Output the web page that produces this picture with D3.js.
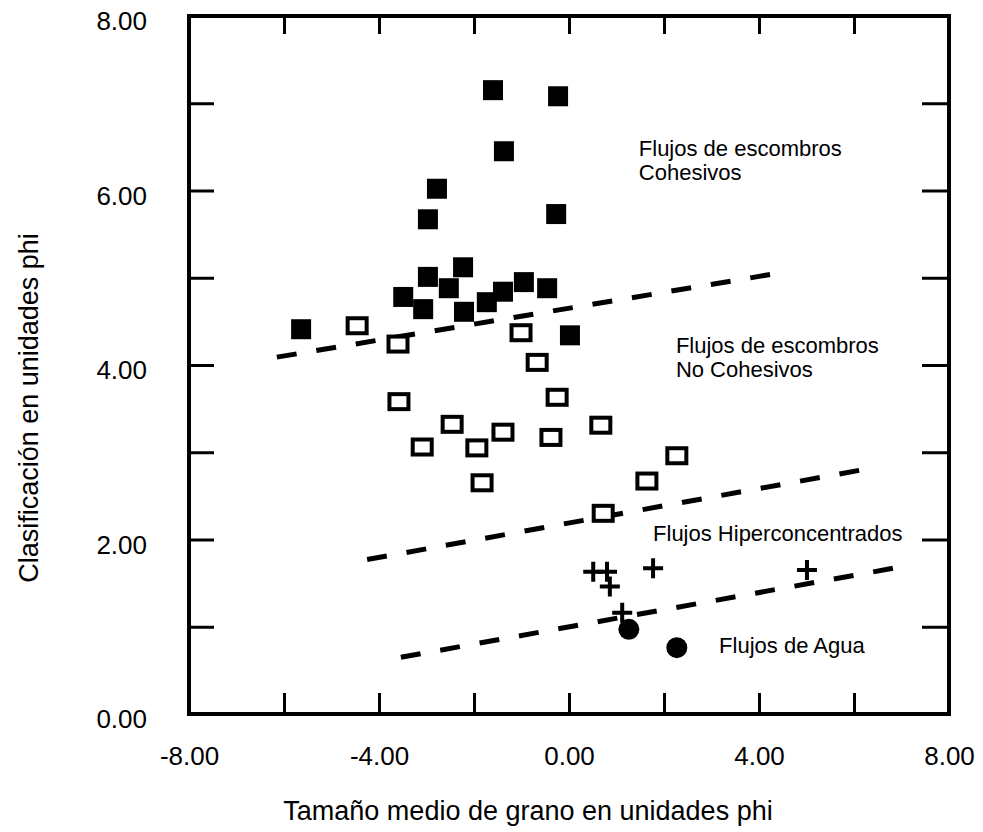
<!DOCTYPE html>
<html>
<head>
<meta charset="utf-8">
<script src="https://cdn.jsdelivr.net/npm/d3@7"></script>
<style>
  body { margin: 0; background: #fff; }
  svg text { font-family: "Liberation Sans", Arial, Helvetica, sans-serif; fill: #000; }
</style>
</head>
<body>
<div id="graph"></div>
<script>
// data (x = tamaño medio, y = clasificación, phi units)
var cohesivos = [
  [-5.64, 4.41], [-1.60, 7.15], [-0.23, 7.08], [-1.37, 6.45], [-2.78, 6.02],
  [-2.97, 5.67], [-0.27, 5.73], [-3.49, 4.78], [-3.07, 4.64], [-2.97, 5.01],
  [-2.23, 5.12], [-2.53, 4.88], [-2.21, 4.61], [-1.73, 4.72], [-1.39, 4.84],
  [-0.95, 4.95], [-0.46, 4.88], [0.02, 4.34]
];
var noCohesivos = [
  [-4.46, 4.45], [-3.60, 4.24], [-1.01, 4.37], [-0.67, 4.03], [-0.25, 3.63],
  [-3.58, 3.58], [-2.46, 3.32], [-3.09, 3.06], [-1.39, 3.23], [-1.94, 3.05],
  [-0.38, 3.17], [-1.83, 2.65], [0.67, 3.31], [2.27, 2.96], [1.64, 2.67],
  [0.72, 2.30]
];
var hiperconcentrados = [
  [0.51, 1.63], [0.80, 1.63], [0.86, 1.46], [1.77, 1.67], [5.01, 1.65], [1.12, 1.16]
];
var agua = [[1.26, 0.97], [2.27, 0.76]];

// dashed boundaries between flow types
var limites = [
  [[-6.15, 4.09], [4.38, 5.05]],
  [[-4.25, 1.77], [6.19, 2.80]],
  [[-3.54, 0.65], [6.82, 1.67]]
];

var xLabelTicks = [-8, -4, 0, 4, 8];
var xMinorTicks = [-6, -4, -2, 0, 2, 4, 6];
var yLabelTicks = [0, 2, 4, 6, 8];
var yMinorTicks = [1, 2, 3, 4, 5, 6, 7];

var zonas = [
  {lines: ["Flujos de escombros", "Cohesivos"], at: [1.47, 6.40]},
  {lines: ["Flujos de escombros", "No Cohesivos"], at: [2.25, 4.14]},
  {lines: ["Flujos Hiperconcentrados"], at: [1.77, 1.98]},
  {lines: ["Flujos de Agua"], at: [3.16, 0.70]}
];

var width = 983, height = 832;

var svg = d3.select("#graph").append("svg")
    .attr("width", width)
    .attr("height", height);

var x = d3.scaleLinear().domain([-8, 8]).range([189, 949]);
var y = d3.scaleLinear().domain([0, 8]).range([714, 16]);

// plain hyphen instead of d3's unicode minus
var fmt = function(d) { return d3.format(".2f")(d).replace("\u2212", "-"); };

// tick marks (inward) on all four sides
function tickOnly(axis, g) {
  g.call(axis);
  g.select(".domain").remove();
  g.selectAll(".tick line").attr("stroke", "#000").attr("stroke-width", 3);
  g.selectAll(".tick text").remove();
}

svg.append("g").attr("transform", "translate(0," + y(0) + ")")
    .call(tickOnly.bind(null, d3.axisBottom(x).tickValues(xMinorTicks).tickSize(-21)));
svg.append("g").attr("transform", "translate(0," + y(8) + ")")
    .call(tickOnly.bind(null, d3.axisTop(x).tickValues(xMinorTicks).tickSize(-18)));
svg.append("g").attr("transform", "translate(" + x(-8) + ",0)")
    .call(tickOnly.bind(null, d3.axisLeft(y).tickValues(yMinorTicks).tickSize(-25)));
svg.append("g").attr("transform", "translate(" + x(8) + ",0)")
    .call(tickOnly.bind(null, d3.axisRight(y).tickValues(yMinorTicks).tickSize(-27)));

// tick labels
function labelOnly(g) {
  g.select(".domain").remove();
  g.selectAll(".tick line").remove();
  g.selectAll(".tick text").attr("font-size", 26).attr("font-family", null);
}

svg.append("g").attr("transform", "translate(0," + y(0) + ")")
    .call(d3.axisBottom(x).tickValues(xLabelTicks).tickFormat(fmt).tickSize(0).tickPadding(33))
    .call(labelOnly);

svg.append("g").attr("transform", "translate(" + x(-8) + ",0)")
    .call(d3.axisLeft(y).tickValues(yLabelTicks).tickFormat(fmt).tickSize(0).tickPadding(42))
    .call(labelOnly)
    .selectAll(".tick text").attr("dy", "0.52em");

// frame
svg.append("rect")
    .attr("x", x(-8)).attr("y", y(8))
    .attr("width", x(8) - x(-8)).attr("height", y(0) - y(8))
    .attr("fill", "none").attr("stroke", "#000").attr("stroke-width", 4);

// dashed boundary lines
var line = d3.line().x(function(d) { return x(d[0]); }).y(function(d) { return y(d[1]); });
svg.append("g").selectAll("path").data(limites).enter().append("path")
    .attr("d", line)
    .attr("fill", "none")
    .attr("stroke", "#000")
    .attr("stroke-width", 5)
    .attr("stroke-dasharray", "20,20");

// cohesive: filled squares
svg.append("g").selectAll("rect").data(cohesivos).enter().append("rect")
    .attr("x", function(d) { return x(d[0]) - 10; })
    .attr("y", function(d) { return y(d[1]) - 10; })
    .attr("width", 20).attr("height", 20)
    .attr("fill", "#000");

// non cohesive: open squares
svg.append("g").selectAll("rect").data(noCohesivos).enter().append("rect")
    .attr("x", function(d) { return x(d[0]) - 9.5; })
    .attr("y", function(d) { return y(d[1]) - 7.5; })
    .attr("width", 19).attr("height", 15)
    .attr("fill", "#fff")
    .attr("stroke", "#000").attr("stroke-width", 4);

// hyperconcentrated: crosses
svg.append("g").selectAll("path").data(hiperconcentrados).enter().append("path")
    .attr("d", function(d) {
      var cx = x(d[0]), cy = y(d[1]);
      return "M" + (cx - 10) + "," + cy + "H" + (cx + 10) + "M" + cx + "," + (cy - 10) + "V" + (cy + 10);
    })
    .attr("stroke", "#000").attr("stroke-width", 4);

// water flows: dots
svg.append("g").selectAll("circle").data(agua).enter().append("circle")
    .attr("cx", function(d) { return x(d[0]); })
    .attr("cy", function(d) { return y(d[1]); })
    .attr("r", 10.5)
    .attr("fill", "#000");

// zone annotations
var zg = svg.append("g").selectAll("text").data(zonas).enter().append("text")
    .attr("x", function(d) { return x(d.at[0]); })
    .attr("y", function(d) { return y(d.at[1]); })
    .attr("font-size", 22);
zg.selectAll("tspan").data(function(d) { return d.lines; }).enter().append("tspan")
    .attr("x", function() { return d3.select(this.parentNode).attr("x"); })
    .attr("dy", function(d, i) { return i ? 24 : 0; })
    .text(function(d) { return d; });

// axis titles
svg.append("text")
    .attr("x", 528).attr("y", 820)
    .attr("text-anchor", "middle")
    .attr("font-size", 27)
    .text("Tamaño medio de grano en unidades phi");

svg.append("text")
    .attr("transform", "translate(38,408) rotate(-90)")
    .attr("text-anchor", "middle")
    .attr("font-size", 27)
    .text("Clasificación en unidades phi");
</script>
</body>
</html>
